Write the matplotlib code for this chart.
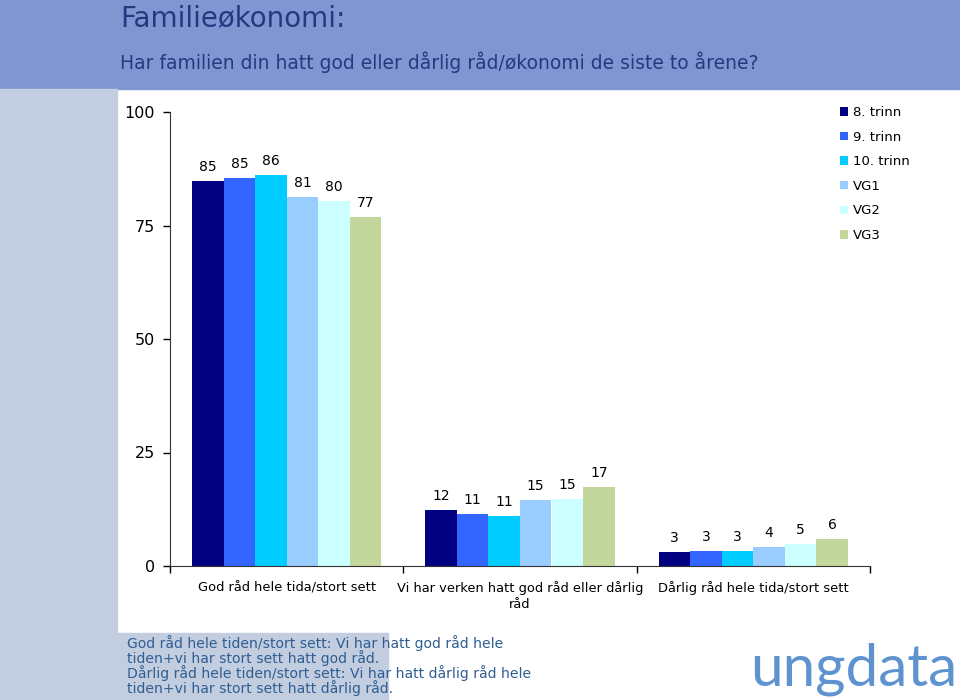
import matplotlib.pyplot as plt
import numpy as np
from matplotlib.patches import Rectangle

# data
kategorier = ['God råd hele tida/stort sett',
              'Vi har verken hatt god råd eller dårlig\nråd',
              'Dårlig råd hele tida/stort sett']
trinn = ['8. trinn', '9. trinn', '10. trinn', 'VG1', 'VG2', 'VG3']
verdier = [
    [84.8, 12.3, 3.1],   # 8. trinn
    [85.4, 11.4, 3.3],   # 9. trinn
    [86.1, 11.0, 3.3],   # 10. trinn
    [81.3, 14.6, 4.2],   # VG1
    [80.4, 14.8, 4.8],   # VG2
    [76.9, 17.4, 5.9],   # VG3
]
farger = ['#000080', '#3366FF', '#00CCFF', '#99CCFF', '#CCFFFF', '#C3D69B']

tittel = 'Familieøkonomi:'
undertittel = 'Har familien din hatt god eller dårlig råd/økonomi de siste to årene?'
fotnote = ('God råd hele tiden/stort sett: Vi har hatt god råd hele\n'
           'tiden+vi har stort sett hatt god råd.\n'
           'Dårlig råd hele tiden/stort sett: Vi har hatt dårlig råd hele\n'
           'tiden+vi har stort sett hatt dårlig råd.')

plt.rcParams['font.family'] = ['DejaVu Sans']

fig = plt.figure(figsize=(9.6, 7), dpi=100)
W, H = 960, 700

# bakgrunn: topp-band, venstre stripe, boks bak fotnote
fig.patches.append(Rectangle((0, 1 - 89 / H), 1, 89 / H, transform=fig.transFigure,
                             color='#7F96D2', zorder=0))
fig.patches.append(Rectangle((0, 0), 117 / W, 1 - 89 / H, transform=fig.transFigure,
                             color='#C2CDE0', zorder=0))
fig.patches.append(Rectangle((117 / W, 0), (388 - 117) / W, 67 / H, transform=fig.transFigure,
                             color='#C2CDE0', zorder=0))

fig.text(120 / W, 1 - 18 / H, tittel, fontsize=20, color='#233A80', va='center', ha='left')
fig.text(120 / W, 1 - 62 / H, undertittel, fontsize=13.5, color='#233A80', va='center', ha='left')

ax = fig.add_axes([170 / W, 134 / H, 700 / W, 454 / H])
ax.set_facecolor('none')

x = np.arange(len(kategorier))
bredde = 0.135
for i, (navn, v) in enumerate(zip(trinn, verdier)):
    pos = x + (i - 2.5) * bredde
    bars = ax.bar(pos, v, bredde, color=farger[i], label=navn, zorder=2)
    for b, val in zip(bars, v):
        ax.annotate(f'{val:.0f}', (b.get_x() + b.get_width() / 2, val),
                    xytext=(0, 5), textcoords='offset points',
                    ha='center', va='bottom', fontsize=10, color='black')

ax.set_xlim(-0.5, 2.5)
ax.set_ylim(0, 100)
ax.set_yticks([0, 25, 50, 75, 100])
ax.tick_params(axis='y', labelsize=11.5, length=5, width=1, direction='out', pad=6)
ax.set_xticks([-0.5, 0.5, 1.5, 2.5])
ax.set_xticklabels([])
ax.set_xticks(x, minor=True)
ax.set_xticklabels(kategorier, minor=True, fontsize=9.4, linespacing=1.3)
ax.tick_params(axis='x', which='major', length=5, width=1, direction='out')
ax.tick_params(axis='x', which='minor', length=0, pad=11)
for s in ['top', 'right']:
    ax.spines[s].set_visible(False)
for s in ['left', 'bottom']:
    ax.spines[s].set_color('#333333')

fig.legend(loc='upper left', bbox_to_anchor=(840 / W, 1 - 106 / H), frameon=False,
           fontsize=9.5, handlelength=0.6, handleheight=0.6, handletextpad=0.4,
           labelspacing=0.88, borderaxespad=0, borderpad=0)

fig.text(127 / W, 1 - 635 / H, fotnote, fontsize=10.1, color='#2F5E91', va='top', ha='left',
         linespacing=0.94)

fig.text(957 / W, 1 - 686 / H, 'ungdata', fontsize=42, color='#5E93CF', ha='right', va='baseline',
         family='Lato', fontweight='normal')

fig.savefig('out.png', dpi=100)
